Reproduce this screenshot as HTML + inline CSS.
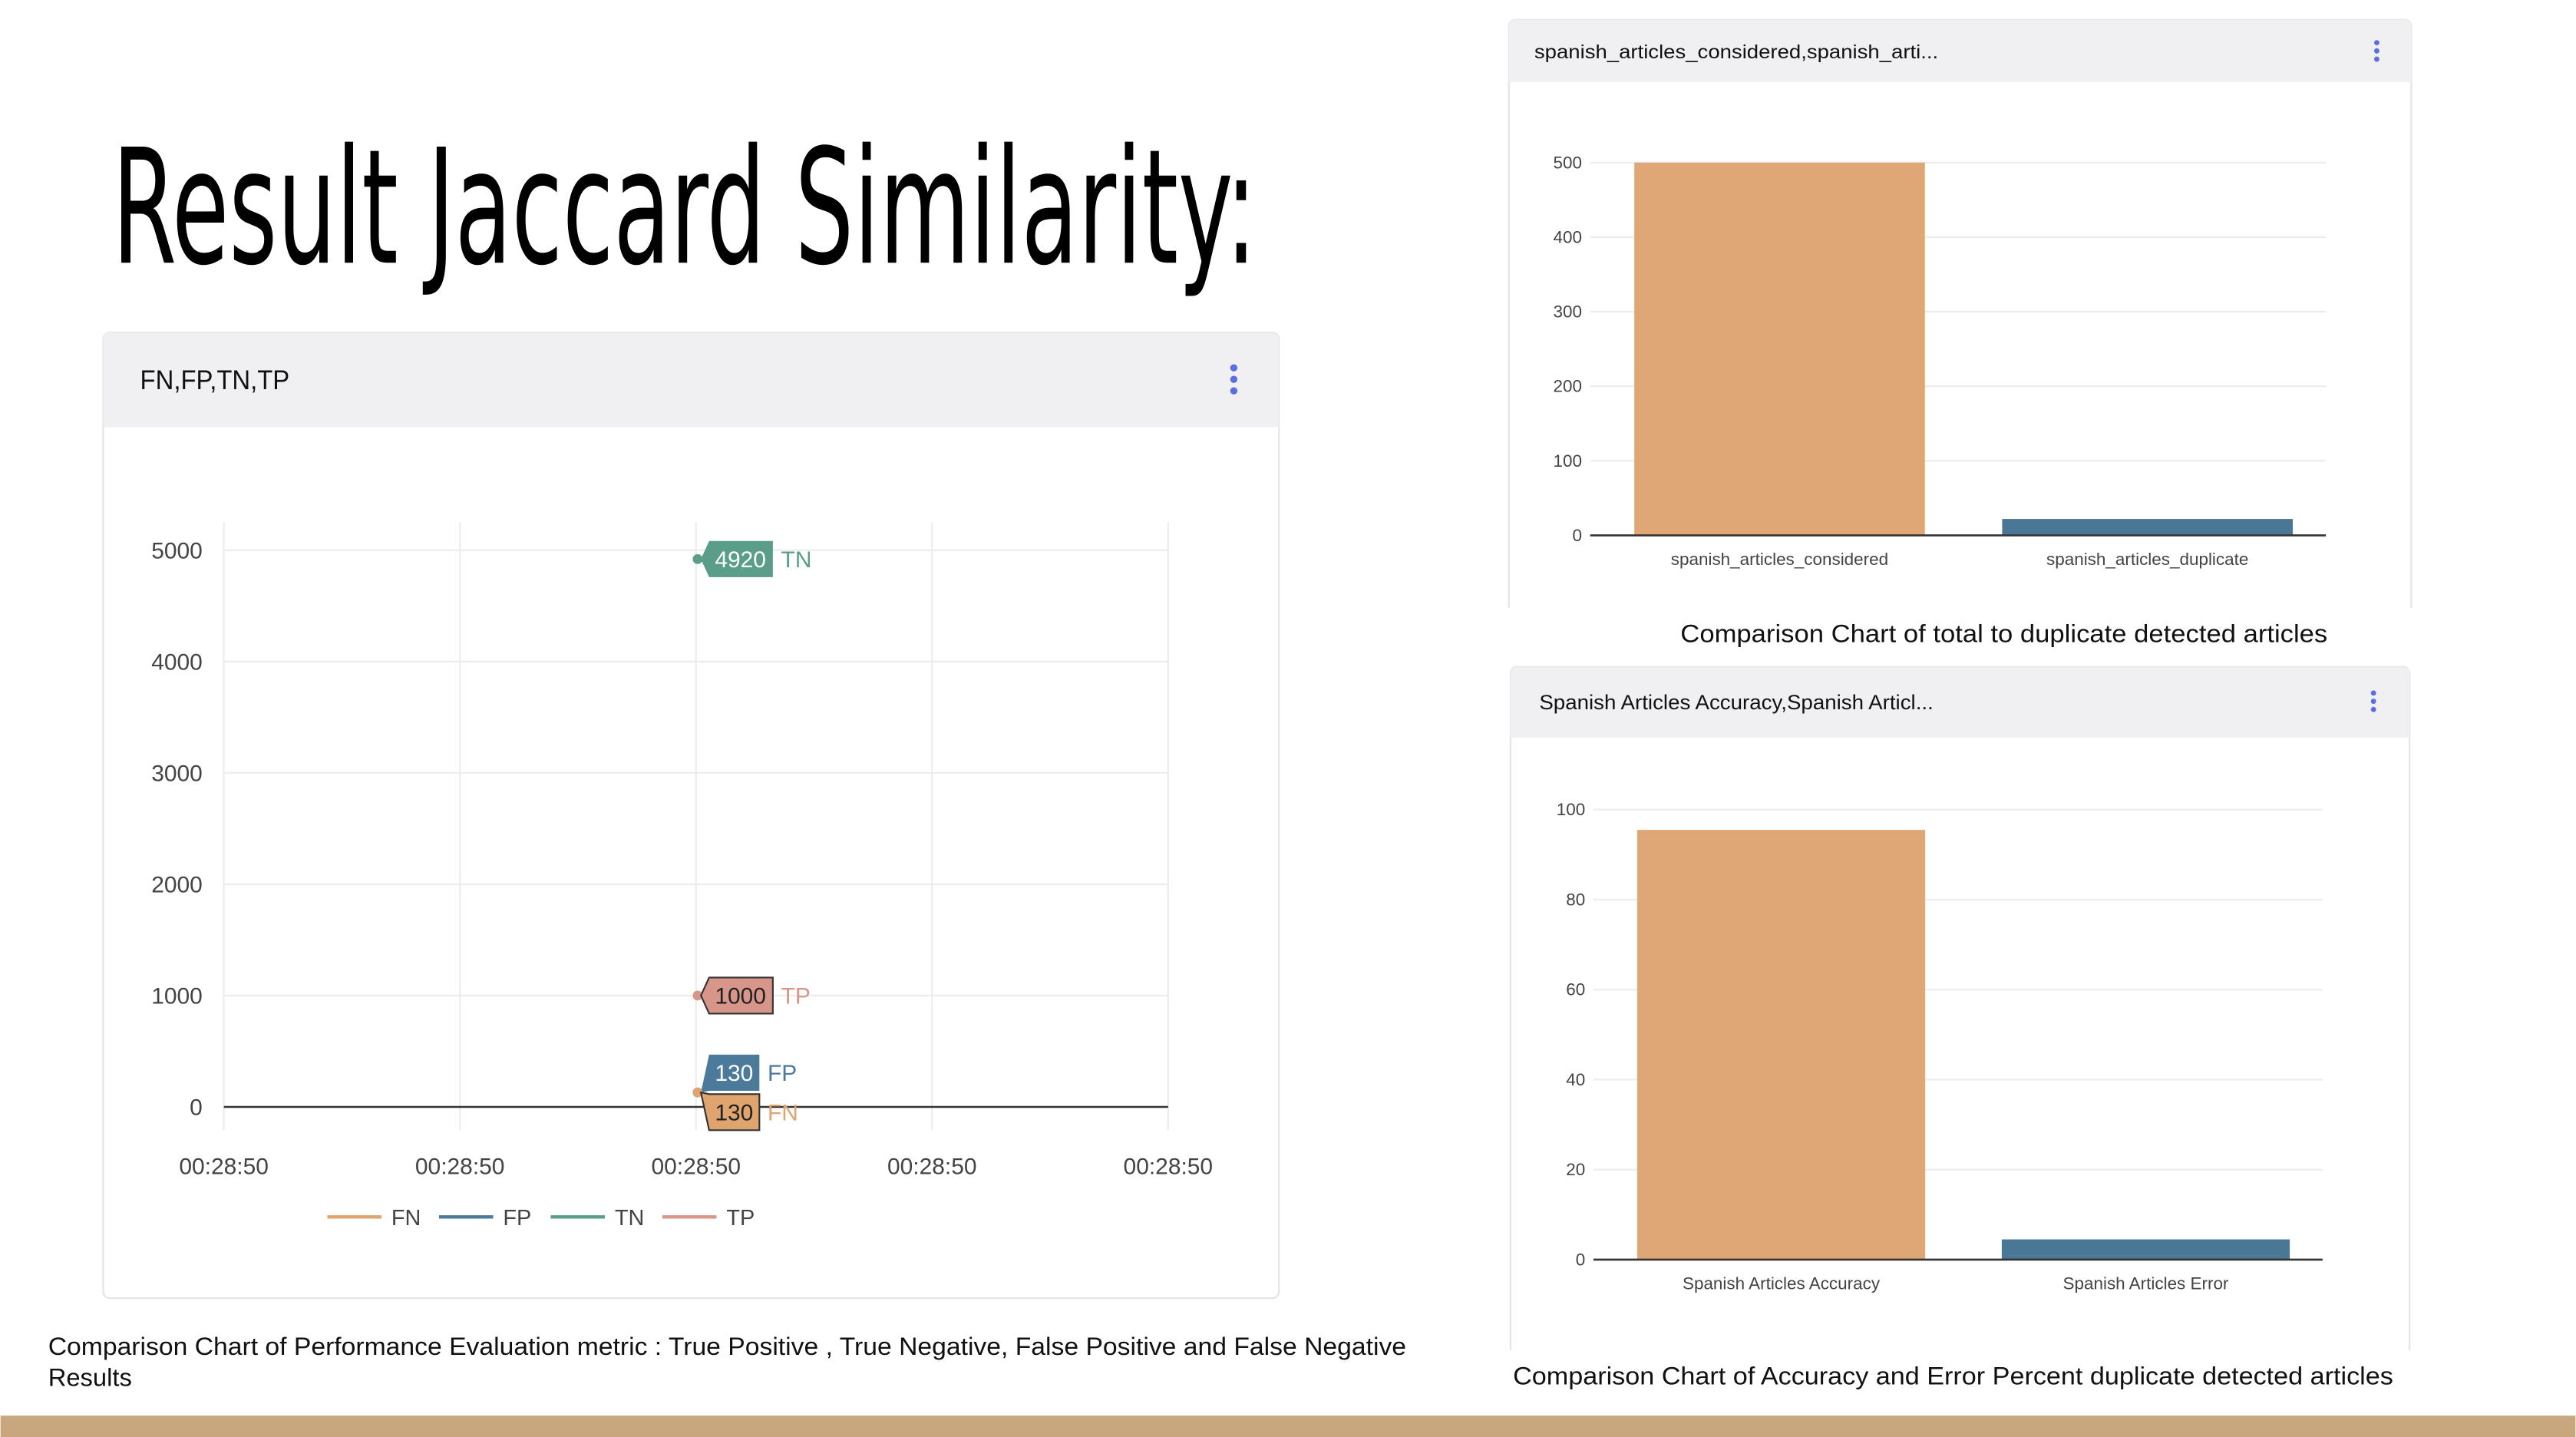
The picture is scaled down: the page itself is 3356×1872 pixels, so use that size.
<!DOCTYPE html>
<html><head><meta charset="utf-8">
<style>
html,body{margin:0;padding:0;background:#fff;}
svg{display:block;}
text{font-family:"Liberation Sans","DejaVu Sans",sans-serif;}
</style></head>
<body>
<svg id="page" width="3356" height="1872" viewBox="0 0 1568 875" xmlns="http://www.w3.org/2000/svg">
  <rect x="0" y="0" width="1568" height="875" fill="#ffffff"/>
  <text x="68" y="160" font-size="97" textLength="697" lengthAdjust="spacingAndGlyphs" style="font-family:'Liberation Sans Narrow','DejaVu Sans Condensed','Liberation Sans',sans-serif" fill="#000">Result Jaccard Similarity:</text>

  <g>
    <rect x="62.5" y="202.5" width="716" height="588" rx="4" fill="#fff" stroke="#e4e4e8"/>
    <path d="M62.5 260 V206.5 a4 4 0 0 1 4 -4 H774.5 a4 4 0 0 1 4 4 V260 Z" fill="#f0f0f2"/>
    <text x="85" y="237" font-size="16.5" textLength="91" lengthAdjust="spacingAndGlyphs" fill="#111">FN,FP,TN,TP</text>
    <g fill="#5b6ee1">
      <circle cx="751" cy="224" r="2.2"/><circle cx="751" cy="231" r="2.2"/><circle cx="751" cy="238" r="2.2"/>
    </g>
    <g id="lineChart"></g>
  </g>
  <text font-size="15" fill="#111"><tspan x="29" y="825" textLength="827" lengthAdjust="spacingAndGlyphs">Comparison Chart of Performance Evaluation metric : True Positive , True Negative, False Positive and False Negative</tspan><tspan x="29" y="844" textLength="51" lengthAdjust="spacingAndGlyphs">Results</tspan></text>

  <g>
    <path d="M918.5 370 V16 a4 4 0 0 1 4 -4 H1464 a4 4 0 0 1 4 4 V370" fill="#fff" stroke="#e4e4e8"/>
    <path d="M918.5 50 V16 a4 4 0 0 1 4 -4 H1464 a4 4 0 0 1 4 4 V50 Z" fill="#f0f0f2"/>
    <text x="934" y="35.5" font-size="11.5" textLength="246" lengthAdjust="spacingAndGlyphs" fill="#111">spanish_articles_considered,spanish_arti...</text>
    <g fill="#5b6ee1">
      <circle cx="1447" cy="26" r="1.6"/><circle cx="1447" cy="31" r="1.6"/><circle cx="1447" cy="36" r="1.6"/>
    </g>
    <g id="bar1"></g>
  </g>
  <text x="1023" y="391" font-size="15" textLength="394" lengthAdjust="spacingAndGlyphs" fill="#111">Comparison Chart of total to duplicate detected articles</text>

  <g>
    <path d="M919.5 822 V410 a4 4 0 0 1 4 -4 H1463 a4 4 0 0 1 4 4 V822" fill="#fff" stroke="#e4e4e8"/>
    <path d="M919.5 449 V410 a4 4 0 0 1 4 -4 H1463 a4 4 0 0 1 4 4 V449 Z" fill="#f0f0f2"/>
    <text x="937" y="432" font-size="12.5" textLength="240" lengthAdjust="spacingAndGlyphs" fill="#111">Spanish Articles Accuracy,Spanish Articl...</text>
    <g fill="#5b6ee1">
      <circle cx="1445" cy="422" r="1.6"/><circle cx="1445" cy="427" r="1.6"/><circle cx="1445" cy="432" r="1.6"/>
    </g>
    <g id="bar2"></g>
  </g>
  <text x="921" y="843" font-size="15" textLength="536" lengthAdjust="spacingAndGlyphs" fill="#111">Comparison Chart of Accuracy and Error Percent duplicate detected articles</text>

  <rect x="0" y="862" width="1568" height="13" fill="#c8a77f"/>
</svg>
<script>
const NS = "http://www.w3.org/2000/svg";
function mk(parent, tag, attrs, txt) {
  const e = document.createElementNS(NS, tag);
  for (const k in attrs) e.setAttribute(k, attrs[k]);
  if (txt !== undefined) e.textContent = txt;
  parent.appendChild(e);
  return e;
}

// ---- line chart data ----
const lineSeries = ["FN", "FP", "TN", "TP"];
const lineValues = [130, 130, 4920, 1000];
const lineYTicks = [0, 1000, 2000, 3000, 4000, 5000];
const lineXTickLabels = ["00:28:50", "00:28:50", "00:28:50", "00:28:50", "00:28:50"];
const linePointXIndex = 2;

// ---- bar chart 1 data ----
const bar1Categories = ["spanish_articles_considered", "spanish_articles_duplicate"];
const bar1Values = [500, 22];
const bar1YTicks = [0, 100, 200, 300, 400, 500];

// ---- bar chart 2 data ----
const bar2Categories = ["Spanish Articles Accuracy", "Spanish Articles Error"];
const bar2Values = [95.5, 4.5];
const bar2YTicks = [0, 20, 40, 60, 80, 100];

const seriesColors = {FN: "#e0a46f", FP: "#4b7a9b", TN: "#5a9e8a", TP: "#d8968a"};
const labelShift = {FN: 12, FP: -12, TN: 0, TP: 0};

(function drawLine() {
  const g = document.getElementById("lineChart");
  const x0 = 136, x1 = 711, yBase = 674, yTop = 335;
  const yMax = 5000;
  const y = v => yBase - (v / yMax) * (yBase - yTop);
  const x = i => x0 + i * (x1 - x0) / (lineXTickLabels.length - 1);
  lineXTickLabels.forEach((lab, i) => {
    const gl = mk(g, "line", {x1: x(i), x2: x(i), y1: 318, y2: 688, stroke: "#ececee", "stroke-width": 1});
    
    
    const t = mk(g, "text", {x: x(i), y: 715, "font-size": 14, "text-anchor": "middle", fill: "#444"}, lab);
    
    
  });
  lineYTicks.forEach(v => {
    const gl = mk(g, "line", {x1: x0, x2: x1, y1: y(v), y2: y(v), stroke: v === 0 ? "#333" : "#ececee", "stroke-width": v === 0 ? 1.2 : 1});
    
    
    const t = mk(g, "text", {x: 123, y: y(v) + 5, "font-size": 14, "text-anchor": "end", fill: "#444"}, String(v));
    
    
  });
  const order = [2, 3, 1, 0];
  order.forEach(i => {
    const name = lineSeries[i], v = lineValues[i], c = seriesColors[name];
    const px = x(linePointXIndex), py = y(v);
    const pt = mk(g, "circle", {cx: px + 1, cy: py, r: 3, fill: c});
    
    
    const txt = String(v);
    const w = txt.length * 8.2 + 6;
    const cy = py + labelShift[name];
    const bx = px + 8, top = cy - 11, bot = cy + 11;
    const tag = mk(g, "path", {d: `M${px + 3} ${py} L${bx} ${top} H${bx + w} V${bot} H${bx} Z`, fill: c, stroke: name === "TP" || name === "FN" ? "#333" : "none", "stroke-width": 1});
    
    
    const vt = mk(g, "text", {x: bx + 3.5, y: cy + 5, "font-size": 14, fill: name === "TP" || name === "FN" ? "#222" : "#fff"}, txt);
    
    
    const nt = mk(g, "text", {x: bx + w + 5, y: cy + 5, "font-size": 14, fill: c}, name);
    
    
  });
  let lx = 199;
  lineSeries.forEach(name => {
    const lg = mk(g, "g", {});
    
    
    mk(lg, "line", {x1: lx, x2: lx + 33, y1: 741, y2: 741, stroke: seriesColors[name], "stroke-width": 2});
    mk(lg, "text", {x: lx + 39, y: 746, "font-size": 13.5, fill: "#444"}, name);
    lx += 68;
  });
})();

function drawBars(id, cats, vals, ticks, box) {
  const g = document.getElementById(id);
  const yMax = ticks[ticks.length - 1];
  const y = v => box.yBase - (v / yMax) * (box.yBase - box.yTop);
  const bw = (box.x1 - box.x0) / cats.length;
  ticks.forEach(v => {
    if (v !== 0) {
      const gl = mk(g, "line", {x1: box.x0, x2: box.x1, y1: y(v), y2: y(v), stroke: "#ececee", "stroke-width": 1});
      
      
    }
    const t = mk(g, "text", {x: box.x0 - 5, y: y(v) + 3.5, "font-size": 10.5, "text-anchor": "end", fill: "#444"}, String(v));
    
    
  });
  const colors = ["#dfa775", "#4a7796"];
  cats.forEach((c, i) => {
    const bx = box.x0 + i * bw + bw * 0.12;
    const w = bw * 0.79;
    const r = mk(g, "rect", {x: bx, y: y(vals[i]), width: w, height: box.yBase - y(vals[i]), fill: colors[i]});
    
    
    const t = mk(g, "text", {x: bx + w / 2, y: box.yBase + 18, "font-size": 10.5, "text-anchor": "middle", fill: "#444"}, c);
    
    
  });
  const ax = mk(g, "line", {x1: box.x0, x2: box.x1, y1: box.yBase, y2: box.yBase, stroke: "#333", "stroke-width": 1.2});
  
  
}
drawBars("bar1", bar1Categories, bar1Values, bar1YTicks, {x0: 968, x1: 1416, yBase: 326, yTop: 99});
drawBars("bar2", bar2Categories, bar2Values, bar2YTicks, {x0: 970, x1: 1414, yBase: 767, yTop: 493});
</script>
</body></html>
